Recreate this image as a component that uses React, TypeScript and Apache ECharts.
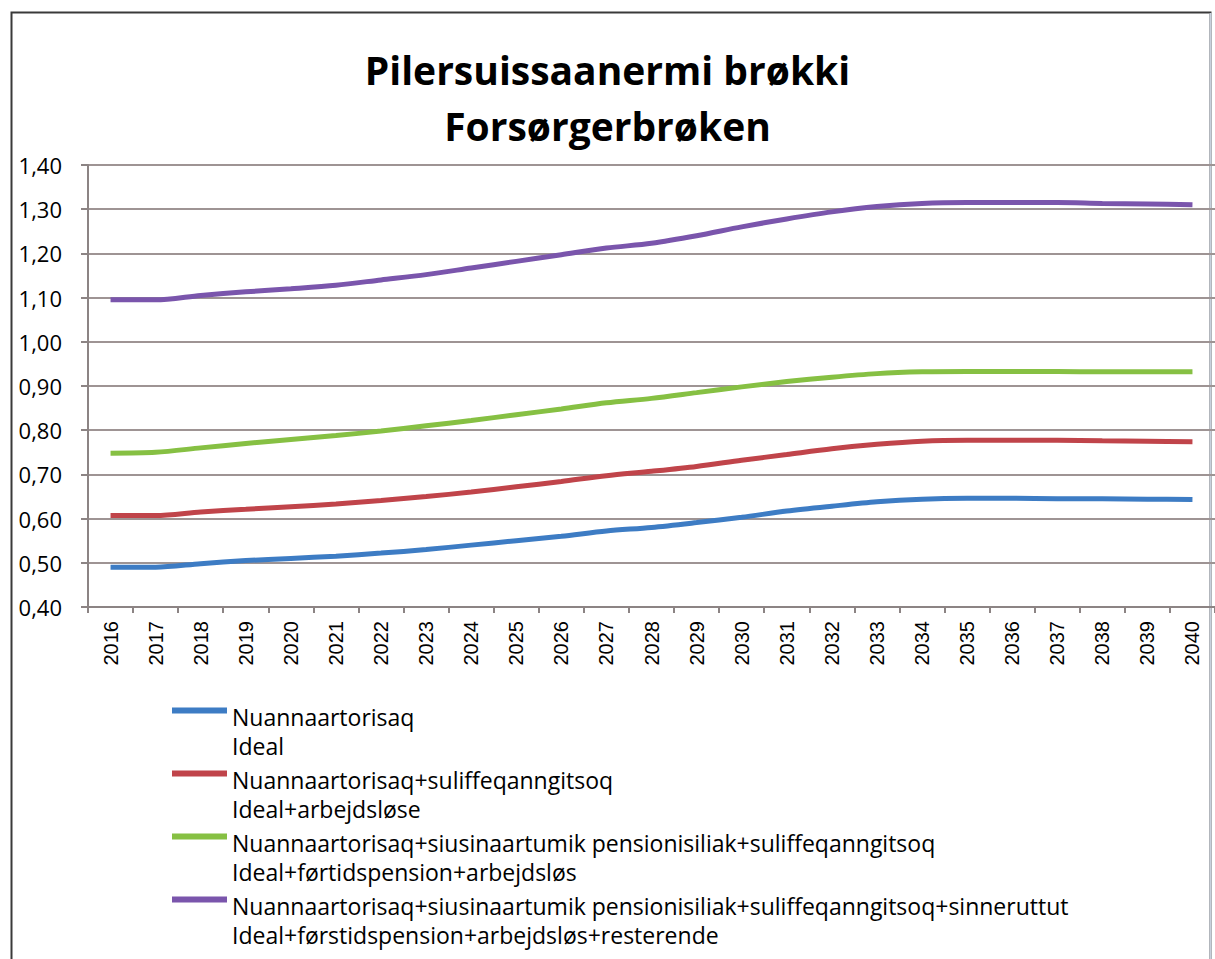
import React, { useEffect, useRef } from "react";
import * as echarts from "echarts";

const years = ["2016","2017","2018","2019","2020","2021","2022","2023","2024","2025","2026","2027","2028","2029","2030","2031","2032","2033","2034","2035","2036","2037","2038","2039","2040"];

const ideal = [0.49,0.49,0.498,0.505,0.51,0.515,0.522,0.53,0.54,0.55,0.56,0.572,0.58,0.591,0.603,0.617,0.628,0.638,0.644,0.646,0.646,0.645,0.645,0.644,0.643];
const idealArb = [0.607,0.607,0.615,0.621,0.627,0.633,0.641,0.65,0.66,0.672,0.684,0.697,0.707,0.718,0.732,0.745,0.758,0.768,0.775,0.777,0.777,0.777,0.776,0.775,0.774];
const idealFort = [0.748,0.75,0.76,0.77,0.779,0.788,0.798,0.81,0.822,0.835,0.848,0.862,0.872,0.885,0.898,0.91,0.92,0.928,0.932,0.933,0.933,0.933,0.932,0.932,0.932];
const idealRest = [1.095,1.095,1.105,1.113,1.12,1.128,1.14,1.152,1.167,1.182,1.197,1.212,1.223,1.24,1.26,1.278,1.294,1.306,1.313,1.315,1.315,1.315,1.313,1.312,1.31];

const seriesNames = [
  "Nuannaartorisaq\nIdeal",
  "Nuannaartorisaq+suliffeqanngitsoq\nIdeal+arbejdsløse",
  "Nuannaartorisaq+siusinaartumik pensionisiliak+suliffeqanngitsoq\nIdeal+førtidspension+arbejdsløs",
  "Nuannaartorisaq+siusinaartumik pensionisiliak+suliffeqanngitsoq+sinneruttut\nIdeal+førstidspension+arbejdsløs+resterende",
];
const seriesData = [ideal, idealArb, idealFort, idealRest];
const colors = ["#3d7cc4", "#c0444a", "#86c043", "#7a55ac"];

const titleLines = ["Pilersuissaanermi brøkki", "Forsørgerbrøken"];

export default function App() {
  const ref = useRef<HTMLDivElement>(null);
  useEffect(() => {
    if (!ref.current) return;
    const chart = echarts.init(ref.current, null, { renderer: "svg" });
    chart.setOption({
      animation: false,
      backgroundColor: "#ffffff",
      color: colors,
      title: {
        text: titleLines.join("\n"),
        left: "center",
        top: 36,
        textStyle: {
          fontFamily: "Open Sans",
          fontWeight: "bold",
          fontSize: 39,
          lineHeight: 56,
          color: "#000",
        },
      },
      graphic: [
        {
          type: "rect",
          shape: { x: 11.5, y: 12.5, width: 1199, height: 960 },
          style: { fill: "none", stroke: "#3a3a3a", lineWidth: 2 },
          silent: true,
          z: 0,
        },
        {
          type: "line",
          shape: { x1: 1210.5, y1: 13, x2: 1210.5, y2: 959 },
          style: { stroke: "#c8d0dc", lineWidth: 2 },
          silent: true,
        },
      ],
      grid: { left: 88, right: 0, top: 165, bottom: 352, containLabel: false },
      legend: {
        orient: "vertical",
        left: 172,
        top: 702,
        padding: 0,
        itemWidth: 55,
        itemHeight: 58,
        itemGap: 5,
        icon: "path://M0,11h55v6h-55z M0,58h0.01v0.01h-0.01z",
        textStyle: {
          fontFamily: "Open Sans",
          fontSize: 23,
          lineHeight: 29,
          color: "#000",
        },
        data: seriesNames,
      },
      xAxis: {
        type: "category",
        data: years,
        boundaryGap: true,
        axisLine: { lineStyle: { color: "#8c8484", width: 2 } },
        axisTick: { show: true, interval: 0, length: 6, lineStyle: { color: "#8c8484", width: 2 } },
        axisLabel: {
          interval: 0,
          rotate: 90,
          margin: 14,
          fontFamily: "Liberation Sans",
          fontSize: 20,
          color: "#000",
        },
        splitLine: { show: false },
      },
      yAxis: {
        type: "value",
        min: 0.4,
        max: 1.4,
        interval: 0.1,
        axisLine: { show: true, lineStyle: { color: "#8c8484", width: 2 } },
        axisTick: { show: true, length: 7, lineStyle: { color: "#8c8484", width: 2 } },
        axisLabel: {
          margin: 26,
          fontFamily: "Open Sans",
          fontSize: 22,
          color: "#000",
          formatter: (v: number) => v.toFixed(2).replace(".", ","),
        },
        splitLine: { show: true, lineStyle: { color: "#9e9494", width: 2 } },
      },
      series: seriesNames.map((name, i) => ({
        name,
        type: "line",
        data: seriesData[i],
        smooth: 0.3,
        symbol: "none",
        lineStyle: { width: 5, color: colors[i] },
        itemStyle: { color: colors[i] },
      })),
    });
    return () => chart.dispose();
  }, []);
  return <div ref={ref} style={{ position: "absolute", left: 0, top: 0, width: 1215, height: 959 }} />;
}
